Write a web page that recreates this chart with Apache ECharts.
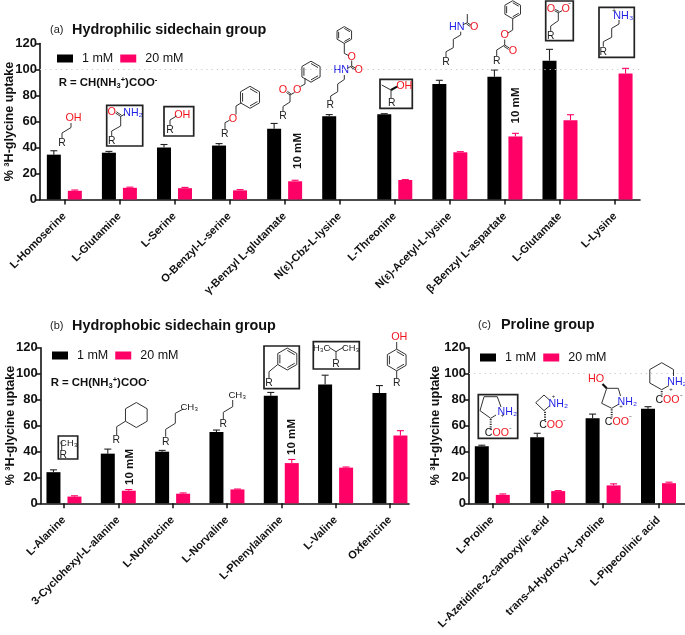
<!DOCTYPE html>
<html><head><meta charset="utf-8">
<style>html,body{margin:0;padding:0;background:#fff}#c{width:685px;height:635px}</style>
<script src="https://cdn.jsdelivr.net/npm/echarts@6/dist/echarts.min.js"></script>
</head><body><div id="c"></div>
<script>
// ---------- data ----------
const categoriesA = ['L-Homoserine','L-Glutamine','L-Serine','O-Benzyl-L-serine','γ-Benzyl L-glutamate','N(ε)-Cbz-L-lysine','L-Threonine','N(ε)-Acetyl-L-lysine','β-Benzyl L-aspartate','L-Glutamate','L-Lysine'];
const oneMMA      = [34.5,36,40,41.5,54.5,64,65.5,88.8,94.5,106.8,null];
const oneMMTopA   = [37.5,37,42.3,43,58.5,65.3,66,91.7,99.6,115.5,null];
const twentyMMA   = [6.7,9,8.7,7,14,null,15,36.3,48.5,60.9,97];
const twentyMMTopA= [7.3,9.5,9.3,7.6,14.8,null,15.3,36.8,50.9,65.2,100.9];

const categoriesB = ['L-Alanine','3-Cyclohexyl-L-alanine','L-Norleucine','L-Norvaline','L-Phenylalanine','L-Valine','Oxfenicine'];
const oneMMB      = [24,38.3,39.8,55,83,91.7,85];
const oneMMTopB   = [25.8,41.8,40.8,56.5,85.5,98.8,90.8];
const twentyMMB   = [5.2,9.7,7.4,10.7,31,27.5,52.3];
const twentyMMTopB= [5.8,10.6,8,11,33.8,28,56];

const categoriesC = ['L-Proline','L-Azetidine-2-carboxylic acid','trans-4-Hydroxy-L-proline','L-Pipecolinic acid'];
const oneMMC      = [44,51,65.6,73];
const oneMMTopC   = [44.8,54,68.8,74.5];
const twentyMMC   = [6.5,9.4,13.8,15.5];
const twentyMMTopC= [7.2,9.8,15,16.3];

const yTicks = {min:0,max:120,interval:20};
const referenceLevel = 100;
const seriesNames = ['1 mM','20 mM'];
const yTitle = '% ³H-glycine uptake';

// ---------- style ----------
const FONT='"Liberation Sans",Arial,sans-serif', INK='#111', BLACK='#000', PINK='#ff0066', RED='#f0141e', BLUE='#1f1fe6';
const BARW=14, OFF=10.5;

const panels=[
 {cats:categoriesA,one:oneMMA,oneT:oneMMTopA,tw:twentyMMA,twT:twentyMMTopA,
  frame:{l:40,r:640,t:43.5,h:156},band:{l:36.8,w:605.8},legend:{l:57,t:52},refEnd:1,nameGap:24},
 {cats:categoriesB,one:oneMMB,oneT:oneMMTopB,tw:twentyMMB,twT:twentyMMTopB,
  frame:{l:40.7,r:409,t:347.7,h:155.6},band:{l:36.8,w:380.3},legend:{l:52,t:349},refEnd:1.016,nameGap:24},
 {cats:categoriesC,one:oneMMC,oneT:oneMMTopC,tw:twentyMMC,twT:twentyMMTopC,
  frame:{l:469,r:685,t:347.7,h:155.6},band:{l:464.6,w:221.6},legend:{l:480,t:351},refEnd:1,nameGap:27}
];

const grid=[],xAxis=[],yAxis=[],series=[],legend=[];
const errItem=(color,off)=>(p,api)=>{
  const a=api.coord([api.value(0),api.value(1)]), b=api.coord([api.value(0),api.value(2)]);
  const x=a[0]+off;
  return {type:'group',children:[
    {type:'line',shape:{x1:x,y1:a[1],x2:x,y2:b[1]},style:{stroke:color,lineWidth:1.1}},
    {type:'line',shape:{x1:x-3.5,y1:b[1],x2:x+3.5,y2:b[1]},style:{stroke:color,lineWidth:1.1}}
  ]};
};
panels.forEach((p,k)=>{
  const fi=grid.length;
  // frame grid: visible axes and the dotted 100 % line
  grid.push({left:p.frame.l,top:p.frame.t,width:p.frame.r-p.frame.l,height:p.frame.h,outerBoundsMode:'none'});
  xAxis.push({type:'value',gridIndex:fi,min:0,max:1,show:true,splitLine:{show:false},axisTick:{show:false},axisLabel:{show:false},
    axisLine:{show:true,onZero:false,lineStyle:{color:INK,width:1.6}}});
  yAxis.push({type:'value',gridIndex:fi,...yTicks,splitLine:{show:false},
    axisLine:{show:true,lineStyle:{color:INK,width:1.6}},axisTick:{show:true,length:5,lineStyle:{color:INK,width:1.5}},
    axisLabel:{color:INK,fontFamily:FONT,fontWeight:'bold',fontSize:13,margin:3},
    name:yTitle,nameLocation:'middle',nameGap:p.nameGap,nameRotate:90,nameMoveOverlap:false,
    nameTextStyle:{color:INK,fontFamily:FONT,fontWeight:'bold',fontSize:12.6}});
  series.push({type:'line',xAxisIndex:fi,yAxisIndex:fi,data:[],silent:true,
    markLine:{silent:true,symbol:'none',label:{show:false},animation:false,
      lineStyle:{color:'#c9c9c9',type:[1.2,4],width:1.1},
      data:[[{coord:[0,referenceLevel]},{coord:[p.refEnd,referenceLevel]}]]}});
  // band grid: categories, bars, error bars
  const bi=grid.length;
  grid.push({left:p.band.l,top:p.frame.t,width:p.band.w,height:p.frame.h,outerBoundsMode:'none'});
  xAxis.push({type:'category',gridIndex:bi,data:p.cats,axisLine:{show:false},
    axisTick:{show:true,alignWithLabel:true,length:5,lineStyle:{color:INK,width:1.5}},
    axisLabel:{interval:0,rotate:45,color:INK,fontFamily:FONT,fontWeight:'bold',fontSize:11,margin:15}});
  yAxis.push({type:'value',gridIndex:bi,...yTicks,show:false});
  series.push({name:seriesNames[0],type:'bar',xAxisIndex:bi,yAxisIndex:bi,data:p.one,barWidth:BARW,barGap:'50%',itemStyle:{color:BLACK},animation:false});
  series.push({name:seriesNames[1],type:'bar',xAxisIndex:bi,yAxisIndex:bi,data:p.tw,barWidth:BARW,barGap:'50%',itemStyle:{color:PINK},animation:false});
  const tri=(v,t)=>v.map((x,i)=>x==null?null:[i,x,t[i]]).filter(Boolean);
  series.push({type:'custom',xAxisIndex:bi,yAxisIndex:bi,renderItem:errItem('#222',-OFF),data:tri(p.one,p.oneT),encode:{x:0,y:2},z:3,animation:false,silent:true});
  series.push({type:'custom',xAxisIndex:bi,yAxisIndex:bi,renderItem:errItem(PINK,OFF),data:tri(p.tw,p.twT),encode:{x:0,y:2},z:3,animation:false,silent:true});
  legend.push({data:seriesNames,left:p.legend.l,top:p.legend.t,padding:0,icon:'rect',itemWidth:16,itemHeight:8,itemGap:7,
    textStyle:{color:INK,fontFamily:FONT,fontSize:12.5,padding:[0,0,0,4]},selectedMode:false});
});

// ---------- annotation helpers ----------
const g=[];
const L=(pts,o={})=>g.push({type:'polyline',silent:true,shape:{points:pts},style:{stroke:o.c||'#333',lineWidth:o.w||1,fill:null,lineDash:o.d||null}});
const T=(s,x,y,fill='#222',size=10.4,o={})=>g.push({type:'text',silent:true,x,y,rotation:o.rot||0,style:{text:s,x:0,y:0,fill,fontFamily:FONT,fontSize:size,fontWeight:o.b?'bold':'normal',align:'center',verticalAlign:'middle',rich:o.rich}});
const B=(x1,y1,x2,y2)=>g.push({type:'rect',silent:true,shape:{x:x1,y:y1,width:x2-x1,height:y2-y1},style:{fill:null,stroke:'#222',lineWidth:1.7}});
const R=(x,y)=>T('R',x,y,'#222',10.4);
const hex=(cx,cy,r,dbl=true,rot=0)=>{
  const v=[];for(let i=0;i<6;i++){const a=(-90+60*i+rot)*Math.PI/180;v.push([cx+r*Math.cos(a),cy+r*Math.sin(a)]);}
  L([...v,v[0]]);
  if(dbl)for(const i of [0,2,4]){const a=v[i],b=v[(i+1)%6],k=.78;
    L([[cx+(a[0]-cx)*k,cy+(a[1]-cy)*k],[cx+(b[0]-cx)*k,cy+(b[1]-cy)*k]]);}
};
const dbl=(a,b)=>{L([a,b]);const dx=b[0]-a[0],dy=b[1]-a[1],n=Math.hypot(dx,dy)||1,ox=-dy/n*1.5,oy=dx/n*1.5;L([[a[0]+ox,a[1]+oy],[b[0]+ox,b[1]+oy]]);};
const coo=(x,y)=>T('{k|C}{r|OO}{s|⁻}',x,y,'#222',10.6,{rich:{k:{fill:'#111',fontSize:10.6,fontFamily:FONT},r:{fill:RED,fontSize:10.6,fontFamily:FONT},s:{fill:'#222',fontSize:8,fontFamily:FONT,padding:[0,0,5,0]}}});
const dash=(a,b)=>L([a,b],{d:[1.2,1.2],w:2,c:'#333'});
const wedge=(a,b)=>L([a,b],{w:2.2,c:'#111'});
const RS=10.8, NS=10.6;

// titles
const ttl=(tag,name,xTag,xName,y)=>{T(tag,xTag,y,'#222',11);g[g.length-1].style.align='left';
  T(name,xName,y,'#111',14.4,{b:true});g[g.length-1].style.align='left';};
ttl('(a)','Hydrophilic sidechain group',50,72,30);
ttl('(b)','Hydrophobic sidechain group',50,72,326);
ttl('(c)','Proline group',478,501,325);
// R definition
const rRich={x:{fill:'#111',fontSize:11.4,fontWeight:'bold',fontFamily:FONT},sub:{fill:'#111',fontSize:7.5,fontWeight:'bold',fontFamily:FONT,padding:[5,0,0,0]},sup:{fill:'#111',fontSize:7.5,fontWeight:'bold',fontFamily:FONT,padding:[0,0,6,0]}};
const rDef='{x|R = CH(NH}{sub|3}{sup|+}{x|)COO}{sup|-}';
T(rDef,108,83,'#111',11.4,{rich:rRich});
T(rDef,100,383,'#111',11.4,{rich:rRich});
// 10 mM
const ten=(x,y)=>T('10 mM',x,y,'#111',11.6,{b:true,rot:Math.PI/2});
ten(298,151);ten(516,105.5);ten(129.5,467);ten(291.7,437);

// --- panel a structures
R(62,143.5);L([[62,138.5],[62,133],[71,127.5],[71,123]]);T('OH',73.5,118.5,RED,RS);
B(106.7,105.3,142.7,146);T('O',111.7,112,RED,RS);T('NH₂',133,112.7,BLUE,NS);R(111.7,141.3);
L([[111.7,136.5],[111.7,131],[120.7,126],[120.7,116.5],[125,114]]);dbl([120.7,116.5],[115.5,113]);
B(164,106.7,193.7,136);T('OH',182.3,114.7,RED,RS);R(170,130.3);L([[170,126],[170,120],[176.5,116]]);
R(224.7,134);L([[225,129.5],[225,122.7],[229.5,120.3]]);T('O',233,118.7,RED,RS);L([[236,114.5],[236,106],[241.5,102.7]]);hex(250,97.3,11);
R(283,116);L([[283,111.5],[283,106.5],[290,102],[290,95],[294.5,92.5]]);dbl([290,95],[286.5,92.5]);T('O',283,90,RED,RS);T('O',297.3,90,RED,RS);L([[300.5,86.5],[305,84],[305,78]]);hex(311,71.7,10.5);
R(330.3,105);L([[330.7,100.7],[330.7,96],[337.7,91.7],[337.7,84],[344.3,79.5],[344.3,75]]);T('HN',341.3,70,BLUE,RS);
L([[347.3,68.3],[351.7,66],[351.7,60.5]]);dbl([351.7,66],[355.5,68.2]);T('O',351.7,57,RED,RS);T('O',358.7,70,RED,RS);L([[348.7,55.7],[344.3,53.3],[344.3,43.3]]);hex(344.3,35,8.4);
B(380,79.3,412.3,108.3);T('OH',404.3,85.7,RED,RS);R(391.7,103.3);L([[381.7,85],[391,90],[391,98.5]]);wedge([391,90],[397,86.6]);
R(446,61.7);L([[446,57.3],[446,51.7],[453.3,47.7],[453.3,39.3],[460.7,35],[460.7,31.7]]);T('HN',456.7,26.7,BLUE,RS);L([[463,24.7],[467.3,22.7],[467.3,14]]);dbl([467.3,22.7],[471,25.2]);T('O',474.3,27.3,RED,RS);
R(496.7,60.7);L([[496.7,56],[496.7,50],[504.7,45],[504.7,39.5]]);dbl([504.7,45],[509.5,48.2]);T('O',513,50.7,RED,RS);T('O',504.7,35,RED,RS);L([[508,33],[512.7,30],[512.7,18.7]]);hex(512.7,9.7,9);
B(545.7,1,573.3,40.7);T('O',551,9,RED,RS);T('O',565.7,9,RED,RS);T('-',569.5,3,'#222',8);R(550.7,36);L([[550.7,31.7],[550.7,26],[558.3,20.7],[558.3,12.7],[562,10.7]]);dbl([558.3,12.7],[554.5,10.7]);
B(599,7.3,634.3,57.3);T('NH₃',623.3,15.7,BLUE,RS);T('+',614,11,'#222',7);R(603.3,51.7);L([[603.3,46.7],[603.3,41.7],[611.7,37.3],[611.7,28.3],[619,24],[619,20]]);

// --- panel b structures
B(58.3,436,77.7,459);T('CH₃',68.8,443.3,'#222',9.4);R(63.3,455);L([[61.7,441],[61.7,450.5]]);
hex(136.3,415,12.5,false);L([[125.5,421.2],[116.7,426.7],[116.7,435]]);R(116.3,440);
R(165.7,441.7);L([[165.7,436.7],[165.7,429.3],[175.3,423.3],[175.3,413.3],[183.3,409]]);T('CH₃',189.3,407.3,'#222',9.6);
R(223.3,424);L([[223.3,420],[223.3,412.3],[232.7,406.7],[232.7,400]]);T('CH₃',237.3,395.7,'#222',9.6);
B(264,346,299.3,388.7);hex(287.3,359,11);L([[277.7,364.5],[269,371.7],[269,379]]);R(269,383.5);
B(313.3,341.7,359.3,369);T('H₃C',321.7,348.3,'#222',9.4);T('CH₃',350.7,348.3,'#222',9.4);R(336,364);L([[329,347.3],[336,351.7],[343.3,347.3]]);L([[336,351.7],[336,360]]);
T('OH',399.3,337.3,RED,RS);L([[396.7,342],[396.7,349.2]]);hex(396.7,360,10.8);L([[396.7,370.8],[396.7,378.5]]);R(396.7,383.3);

// --- panel c structures
B(478.3,394.7,517.7,438.3);
L([[501,407],[497.3,396.7],[484,396.7],[480,410.7],[490.7,418.3],[496,415]]);T('NH₂',507.3,411.7,BLUE,NS);T('+',502.5,415.5,'#222',6);dash([490.7,419],[490.7,429.5]);coo(498.3,433.3);
L([[550,400.5],[544,395],[535.7,402.7],[544,410.7],[550,405.5]]);T('NH₂',558.3,404,BLUE,NS);T('+',553.5,396.5,'#222',6);dash([545,411.7],[545,420.5]);coo(552.7,425);
L([[620.5,396],[618.3,388.3],[606.7,388.3],[601.7,403.3],[611.7,408.3],[619,404]]);T('NH₂',627.3,401.7,BLUE,NS);T('+',621,406.5,'#222',6);T('HO',596,379.3,RED,RS);wedge([606.7,388.3],[602.5,384]);dash([611.7,409.3],[611.7,417.5]);coo(618.3,421.7);
L([[673.5,376],[673.5,369.5],[661.7,362.7],[649.8,369.5],[649.8,383],[661.7,389.7],[669,385.5]]);T('NH₂',677,381.7,BLUE,NS);T('+',671,389,'#222',6);dash([661.7,391],[661.7,396]);coo(669,400);

echarts.init(document.getElementById('c'),null,{renderer:'canvas'}).setOption({
  animation:false,backgroundColor:'#fff',grid,xAxis,yAxis,series,legend,graphic:{elements:g}
});
</script></body></html>
